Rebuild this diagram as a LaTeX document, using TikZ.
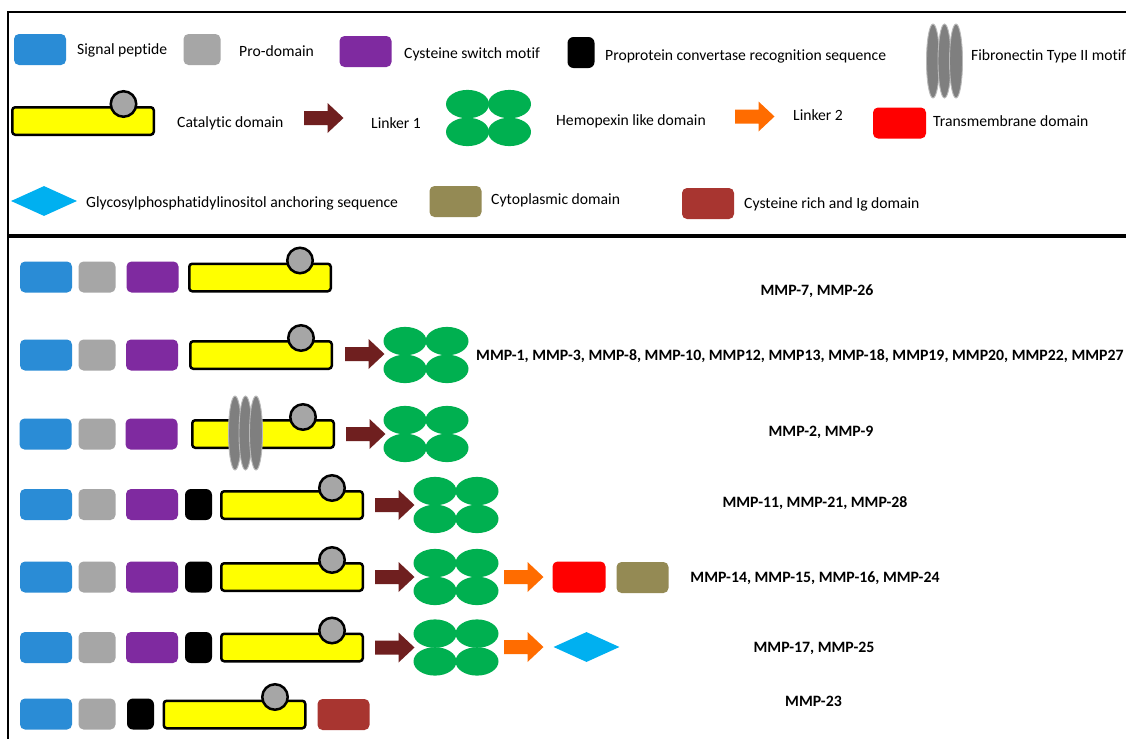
\documentclass[tikz,border=0pt]{standalone}
\usepackage{fontspec}
\setmainfont{Carlito}[Ligatures=CommonOff]
\usetikzlibrary{shapes.geometric}
\definecolor{sigblue}{RGB}{42,140,214}
\definecolor{progray}{RGB}{166,166,166}
\definecolor{cyspurple}{RGB}{127,42,160}
\definecolor{catyellow}{RGB}{255,255,0}
\definecolor{lnkone}{RGB}{111,31,31}
\definecolor{hemgreen}{RGB}{0,176,80}
\definecolor{lnktwo}{RGB}{255,108,0}
\definecolor{tmred}{RGB}{255,0,0}
\definecolor{gpicyan}{RGB}{0,176,240}
\definecolor{cytolive}{RGB}{148,138,84}
\definecolor{igbrown}{RGB}{168,53,48}
\definecolor{fngray}{RGB}{127,127,127}
\tikzset{
  dom/.style={rectangle, rounded corners=5pt, inner sep=0pt, minimum height=31pt, draw=none},
  sig/.style={dom, fill=sigblue, minimum width=52pt},
  pro/.style={dom, fill=progray, minimum width=37pt},
  cys/.style={dom, fill=cyspurple, minimum width=52pt},
  pcr/.style={dom, fill=black, minimum width=27pt, rounded corners=6pt},
  tm/.style={dom, fill=tmred, minimum width=53pt},
  cyto/.style={dom, fill=cytolive, minimum width=52pt},
  igd/.style={dom, fill=igbrown, minimum width=52pt},
  cat/.style={rectangle, rounded corners=3pt, inner sep=0pt, draw=black, line width=2.5pt, fill=catyellow, minimum width=141.5pt, minimum height=27.5pt},
  zn/.style={circle, draw=black, line width=2.5pt, fill=progray, minimum size=25.5pt, inner sep=0pt},
  gpi/.style={diamond, fill=gpicyan, inner sep=0pt, minimum width=66pt, minimum height=30pt},
  lgd/.style={anchor=base west, font=\fontsize{15.65}{18}\selectfont, inner sep=0pt},
  mmp/.style={anchor=base, font=\bfseries\fontsize{15.8}{18}\selectfont, inner sep=0pt},
  pics/hemo/.style={code={
    \fill[hemgreen] (-21,-13.9) ellipse [x radius=21.5pt, y radius=14.2pt];
    \fill[hemgreen] (21,-13.9) ellipse [x radius=21.5pt, y radius=14.2pt];
    \fill[hemgreen] (-21,13.9) ellipse [x radius=21.5pt, y radius=14.2pt];
    \fill[hemgreen] (21,13.9) ellipse [x radius=21.5pt, y radius=14.2pt];
  }},
  pics/lnk/.style={code={
    \fill[#1] (0,-7) -- (23.5,-7) -- (23.5,-15) -- (39.5,0) -- (23.5,15) -- (23.5,7) -- (0,7) -- cycle;
  }},
  fnell/.style={fill=fngray, draw=fngray!55!white, line width=0.9pt},
  pics/fibro/.style={code={
    \path[fnell] (-#1,0) ellipse [x radius=6.5pt, y radius=37pt];
    \path[fnell] (0,0) ellipse [x radius=6.5pt, y radius=37pt];
    \path[fnell] (#1,0) ellipse [x radius=6.5pt, y radius=37pt];
  }},
}
\begin{document}
\begin{tikzpicture}[x=1pt,y=-1pt]
\useasboundingbox (0,0) rectangle (1126,739);
\fill[white] (0,0) rectangle (1126,739);
% frame
\draw[line width=2pt] (1126,12) -- (8,12) -- (8,739);
\draw[line width=4pt] (8,235.5) -- (1126,235.5);

% ---------- legend ----------
\node[sig] (lsig) at (40,49.5) {};
\node[lgd] (tsig) at (77,54) {Signal peptide};
\node[pro] (lpro) at (202,49.5) {};
\node[lgd] (tpro) at (239,56) {Pro-domain};
\node[cys] (lcys) at (365.5,51.5) {};
\node[lgd] (tcys) at (404,58) {Cysteine switch motif};
\node[pcr] (lpcr) at (581,52.5) {};
\node[lgd] (tpcr) at (605,60) {Proprotein convertase recognition sequence};
\pic at (944.5,61) {fibro=11.5};
\node[lgd] (tfib) at (971,60) {Fibronectin Type II motif};

\node[cat] (lcat) at (83,121) {};
\node[zn] (lzn) at (123.5,104) {};
\node[lgd] (tcat) at (177,127) {Catalytic domain};
\pic at (304,118) {lnk=lnkone};
\node[lgd] (tl1) at (371,128) {Linker 1};
\pic at (488.5,118) {hemo};
\node[lgd] (themo) at (556,125) {Hemopexin like domain};
\pic at (735,116.5) {lnk=lnktwo};
\node[lgd] (tl2) at (793,120) {Linker 2};
\node[tm] (ltm) at (899.5,123) {};
\node[lgd] (ttm) at (933,126) {Transmembrane domain};

\node[gpi] (lgpi) at (44,201) {};
\node[lgd] (tgpi) at (86,207) {Glycosylphosphatidylinositol anchoring sequence};
\node[cyto] (lcyto) at (455.5,201.5) {};
\node[lgd] (tcyto) at (491,204) {Cytoplasmic domain};
\node[igd] (ligd) at (708,203.5) {};
\node[lgd] (tigd) at (744,208) {Cysteine rich and Ig domain};

% ---------- row A ----------
\node[sig] (asig) at (46,277) {};
\node[pro] (apro) at (97,277) {};
\node[cys] (acys) at (152.5,277) {};
\node[cat] (acat) at (260,277.5) {};
\node[zn] (azn) at (300,260.5) {};
\node[mmp] (alab) at (817,295) {MMP-7, MMP-26};

% ---------- row B ----------
\node[sig] (bsig) at (46,355) {};
\node[pro] (bpro) at (97,355) {};
\node[cys] (bcys) at (152,355) {};
\node[cat] (bcat) at (261,355) {};
\node[zn] (bzn) at (301,338) {};
\pic at (345,354) {lnk=lnkone};
\pic at (426,355) {hemo};
\node[mmp, anchor=base west] (blab) at (476,360) {MMP-1, MMP-3, MMP-8, MMP-10, MMP12, MMP13, MMP-18, MMP19, MMP20, MMP22, MMP27};

% ---------- row C ----------
\node[sig] (csig) at (45.5,434) {};
\node[pro] (cpro) at (97,434) {};
\node[cys] (ccys) at (151.5,434) {};
\node[cat] (ccat) at (263,434) {};
\pic at (245.5,433) {fibro=10.5};
\node[zn] (czn) at (303,417) {};
\pic at (346,434) {lnk=lnkone};
\pic at (426,434) {hemo};
\node[mmp] (clab) at (821,436) {MMP-2, MMP-9};

% ---------- row D ----------
\node[sig] (dsig) at (46,504.5) {};
\node[pro] (dpro) at (97,504.5) {};
\node[cys] (dcys) at (152,504.5) {};
\node[pcr] (dpcr) at (198.5,504.5) {};
\node[cat] (dcat) at (292,505) {};
\node[zn] (dzn) at (332,488) {};
\pic at (375,505) {lnk=lnkone};
\pic at (456,505) {hemo};
\node[mmp] (dlab) at (815,507) {MMP-11, MMP-21, MMP-28};

% ---------- row E ----------
\node[sig] (esig) at (46,577) {};
\node[pro] (epro) at (97,577) {};
\node[cys] (ecys) at (152,577) {};
\node[pcr] (epcr) at (198.5,577) {};
\node[cat] (ecat) at (292,577) {};
\node[zn] (ezn) at (332,560) {};
\pic at (375,577) {lnk=lnkone};
\pic at (456,577) {hemo};
\pic at (504,577) {lnk=lnktwo};
\node[tm] (etm) at (579,577) {};
\node[cyto] (ecyto) at (642.5,577.5) {};
\node[mmp] (elab) at (815,582) {MMP-14, MMP-15, MMP-16, MMP-24};

% ---------- row F ----------
\node[sig] (fsig) at (46,647.5) {};
\node[pro] (fpro) at (97,647.5) {};
\node[cys] (fcys) at (152,647.5) {};
\node[pcr] (fpcr) at (198.5,647.5) {};
\node[cat] (fcat) at (292,647.5) {};
\node[zn] (fzn) at (332,630.5) {};
\pic at (375,647.5) {lnk=lnkone};
\pic at (456,647.5) {hemo};
\pic at (504,647) {lnk=lnktwo};
\node[gpi] (fgpi) at (586.5,647) {};
\node[mmp] (flab) at (814,652) {MMP-17, MMP-25};

% ---------- row G ----------
\node[sig] (gsig) at (46,714) {};
\node[pro] (gpro) at (97,714) {};
\node[pcr] (gpcr) at (140.5,714) {};
\node[cat] (gcat) at (234.5,714.5) {};
\node[zn] (gzn) at (275,697) {};
\node[igd] (gigd) at (343.5,714.5) {};
\node[mmp] (glab) at (813.5,706) {MMP-23};
\end{tikzpicture}
\end{document}
